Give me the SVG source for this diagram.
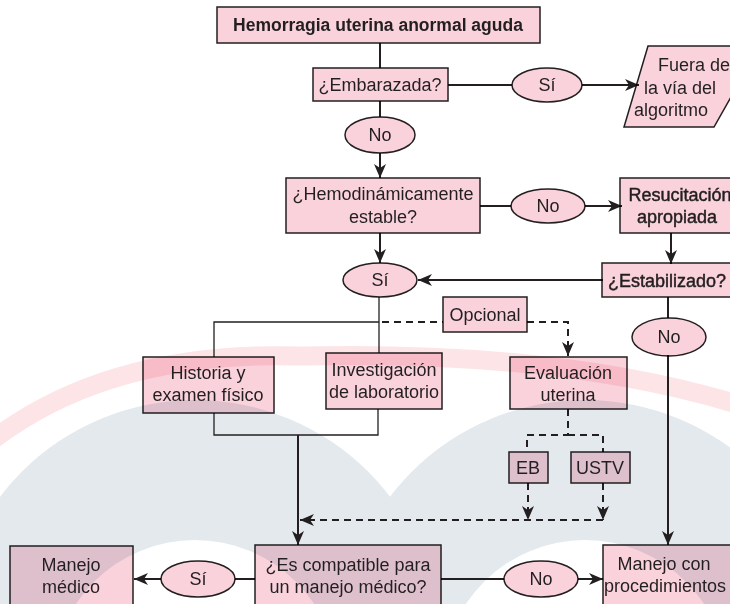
<svg xmlns="http://www.w3.org/2000/svg" width="730" height="604" viewBox="0 0 730 604">
<defs>
<style>
.n{fill:#f9d2dc;stroke:#231f20;stroke-width:1.5;mix-blend-mode:multiply}
text{font-family:"Liberation Sans",Arial,sans-serif;font-size:18px;fill:#231f20;text-anchor:middle}
.b{font-weight:bold}
.h{stroke:#231f20;stroke-width:0.45}
.c{fill:none;stroke:#231f20;stroke-width:2}
.t{fill:none;stroke:#231f20;stroke-width:1.3}
.ds{fill:none;stroke:#231f20;stroke-width:2;stroke-dasharray:7 5}
</style>
<marker id="ah" markerUnits="userSpaceOnUse" markerWidth="16" markerHeight="14" refX="14" refY="6" orient="auto" overflow="visible">
<path d="M0,0 L14,6 L0,12 L4,6 Z" fill="#231f20" stroke="none"/>
</marker>
</defs>
<rect width="730" height="604" fill="#ffffff"/>
<g id="watermark">
<circle cx="195" cy="645" r="245" fill="#e4e9ee"/>
<circle cx="585" cy="645" r="245" fill="#e4e9ee"/>
<circle cx="195" cy="683" r="143" fill="#ffffff"/>
<circle cx="585" cy="683" r="143" fill="#ffffff"/>
<path d="M-20,450 Q100,350 300,356 Q560,350 740,405" fill="none" stroke="#fde5e7" stroke-width="19"/>
</g>
<g id="connectors">
<line class="c" x1="380" y1="43" x2="380" y2="68"/>
<line class="c" x1="448" y1="85" x2="512" y2="85"/>
<line class="c" x1="582" y1="85" x2="639" y2="85" marker-end="url(#ah)"/>
<line class="c" x1="380" y1="101" x2="380" y2="117"/>
<line class="c" x1="380" y1="153" x2="380" y2="178" marker-end="url(#ah)"/>
<line class="c" x1="480" y1="206" x2="511" y2="206"/>
<line class="c" x1="585" y1="206" x2="622" y2="206" marker-end="url(#ah)"/>
<line class="c" x1="380" y1="233" x2="380" y2="263" marker-end="url(#ah)"/>
<line class="c" x1="671" y1="233" x2="671" y2="264" marker-end="url(#ah)"/>
<line class="c" x1="603" y1="280" x2="418" y2="280" marker-end="url(#ah)"/>
<polyline class="t" points="214,357 214,322 379,322"/>
<line class="t" x1="379" y1="297" x2="379" y2="353"/>
<polyline class="t" points="214,413 214,435 378,435 378,409"/>
<line class="c" x1="298" y1="435" x2="298" y2="545" marker-end="url(#ah)"/>
<line class="ds" x1="382" y1="322" x2="443" y2="322"/>
<polyline class="ds" points="527,322 568,322 568,356" marker-end="url(#ah)"/>
<polyline class="ds" points="568,409 568,435 527,435 527,452"/>
<polyline class="ds" points="568,435 603,435 603,452"/>
<line class="ds" x1="528" y1="483" x2="528" y2="520" marker-end="url(#ah)"/>
<line class="ds" x1="603" y1="483" x2="603" y2="520" marker-end="url(#ah)"/>
<line class="ds" x1="603" y1="520" x2="300" y2="520" marker-end="url(#ah)"/>
<line class="c" x1="668" y1="297" x2="668" y2="318"/>
<line class="c" x1="668" y1="355" x2="668" y2="545" marker-end="url(#ah)"/>
<line class="c" x1="161" y1="579" x2="134" y2="579" marker-end="url(#ah)"/>
<line class="c" x1="235" y1="579" x2="255" y2="579"/>
<line class="c" x1="441" y1="579" x2="504" y2="579"/>
<line class="c" x1="578" y1="579" x2="603" y2="579" marker-end="url(#ah)"/>
</g>
<g id="n-title"><rect class="n" x="217" y="7" width="323" height="36"/><text class="b" x="378" y="31" style="font-size:17.5px">Hemorragia uterina anormal aguda</text></g>
<g id="n-embarazada"><rect class="n" x="313" y="68" width="135" height="33"/><text x="380" y="91">¿Embarazada?</text></g>
<g id="n-si1"><ellipse class="n" cx="547" cy="85" rx="35" ry="17"/><text x="547" y="91">Sí</text></g>
<g id="n-fuera"><polygon class="n" points="648,46 760,46 714,127 624,127"/><text x="694" y="71">Fuera de</text><text x="680" y="94">la vía del</text><text x="671" y="116">algoritmo</text></g>
<g id="n-no1"><ellipse class="n" cx="380" cy="135" rx="35" ry="18"/><text x="380" y="141">No</text></g>
<g id="n-hemo"><rect class="n" x="286" y="178" width="194" height="55"/><text x="383" y="200">¿Hemodinámicamente</text><text x="383" y="223">estable?</text></g>
<g id="n-no2"><ellipse class="n" cx="548" cy="206" rx="37" ry="17"/><text x="548" y="212">No</text></g>
<g id="n-resu"><rect class="n" x="620" y="178" width="125" height="55"/><text class="h" x="680" y="201">Resucitación</text><text class="h" x="677" y="223">apropiada</text></g>
<g id="n-si2"><ellipse class="n" cx="380" cy="280" rx="37" ry="17"/><text x="380" y="286">Sí</text></g>
<g id="n-estab"><rect class="n" x="602" y="263" width="143" height="34"/><text class="h" x="608" y="287" style="text-anchor:start">¿Estabilizado?</text></g>
<g id="n-opcional"><rect class="n" x="443" y="297" width="84" height="35"/><text x="485" y="321">Opcional</text></g>
<g id="n-no3"><ellipse class="n" cx="669" cy="337" rx="37" ry="19"/><text x="669" y="343">No</text></g>
<g id="n-historia"><rect class="n" x="143" y="357" width="131" height="56"/><text x="208" y="379">Historia y</text><text x="208" y="401">examen físico</text></g>
<g id="n-investigacion"><rect class="n" x="326" y="353" width="116" height="56"/><text x="384" y="376">Investigación</text><text x="384" y="398">de laboratorio</text></g>
<g id="n-evaluacion"><rect class="n" x="510" y="357" width="117" height="52"/><text x="568" y="379">Evaluación</text><text x="568" y="401">uterina</text></g>
<g id="n-eb"><rect class="n" x="509" y="452" width="39" height="31"/><text x="528" y="474">EB</text></g>
<g id="n-ustv"><rect class="n" x="571" y="452" width="59" height="31"/><text x="600" y="474">USTV</text></g>
<g id="n-manejo-medico"><rect class="n" x="10" y="546" width="123" height="64"/><text x="71" y="571">Manejo</text><text x="71" y="593">médico</text></g>
<g id="n-si3"><ellipse class="n" cx="198" cy="579" rx="37" ry="18"/><text x="198" y="585">Sí</text></g>
<g id="n-compatible"><rect class="n" x="255" y="545" width="186" height="65"/><text x="348" y="571">¿Es compatible para</text><text x="348" y="593">un manejo médico?</text></g>
<g id="n-no4"><ellipse class="n" cx="541" cy="579" rx="37" ry="18"/><text x="541" y="585">No</text></g>
<g id="n-manejo-proc"><rect class="n" x="603" y="545" width="140" height="65"/><text x="664" y="570">Manejo con</text><text x="665" y="592">procedimientos</text></g>
</svg>
